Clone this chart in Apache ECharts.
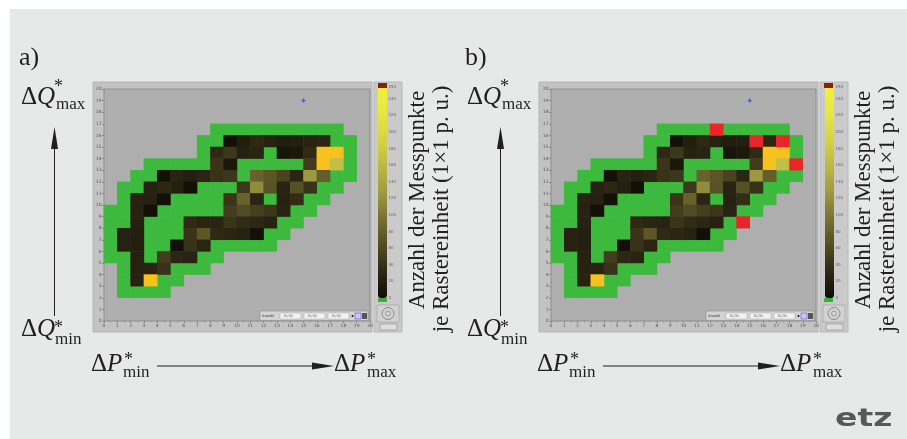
<!DOCTYPE html>
<html><head><meta charset="utf-8">
<script src="https://cdn.jsdelivr.net/npm/echarts@6/dist/echarts.min.js"></script>
<style>html,body{margin:0;padding:0;background:#fff;}#c{width:907px;height:439px;}</style>
</head><body><div id="c"></div>
<script>
// ---- data (grid cell = [x, y] in 1x1 p.u. raster, value = count) ----
const cellCategories = ['0','1','2','3','4','5','6','7','8','9','10','11','12','13','14','15','16','17','18','19'];
const axisMin = 0, axisMax = 20, axisStep = 1;
const colorbarMin = 0, colorbarMax = 254, colorbarStep = 20;
const rampMax = 252, rampRangeTop = 251;

// cells with measurements below threshold (drawn green)
const greenCells = [
  [8,16],[9,16],[10,16],[11,16],[12,16],[13,16],[14,16],[15,16],[16,16],[17,16],
  [7,15],[8,15],[17,15],[18,15],
  [7,14],[12,14],[18,14],
  [3,13],[4,13],[5,13],[6,13],[7,13],[10,13],[11,13],[12,13],[13,13],[14,13],[18,13],
  [2,12],[3,12],[10,12],[17,12],[18,12],
  [1,11],[2,11],[7,11],[8,11],[9,11],[16,11],[17,11],
  [1,10],[5,10],[6,10],[7,10],[8,10],[12,10],[15,10],[16,10],
  [0,9],[1,9],[4,9],[5,9],[6,9],[7,9],[8,9],[14,9],[15,9],
  [0,8],[1,8],[3,8],[4,8],[5,8],[13,8],[14,8],
  [0,7],[3,7],[4,7],[5,7],[12,7],[13,7],
  [0,6],[3,6],[4,6],[8,6],[9,6],[10,6],[11,6],[12,6],
  [0,5],[1,5],[3,5],[7,5],[8,5],
  [1,4],[5,4],[6,4],[7,4],
  [1,3],[4,3],[5,3],
  [1,2],[2,2],[3,2],[4,2]
];

// counted cells [x, y, count]
const countCells = [
  [9,15,4],[10,15,20],[11,15,32],[12,15,24],[13,15,20],[14,15,22],[15,15,26],[16,15,30],
  [8,14,32],[9,14,45],[10,14,24],[11,14,26],[13,14,10],[14,14,14],[15,14,34],[16,14,254],[17,14,254],
  [8,13,42],[9,13,12],[15,13,48],[16,13,254],[17,13,165],
  [4,12,5],[5,12,26],[6,12,22],[7,12,28],[8,12,40],[9,12,44],[11,12,80],[12,12,70],[13,12,55],[14,12,28],[15,12,125],[16,12,78],
  [3,11,24],[4,11,30],[5,11,22],[6,11,5],[10,11,45],[11,11,115],[12,11,68],[13,11,26],[14,11,66],[15,11,40],
  [2,10,26],[3,10,24],[4,10,5],[9,10,42],[10,10,80],[11,10,28],[13,10,24],[14,10,36],
  [2,9,24],[3,9,5],[9,9,50],[10,9,62],[11,9,52],[12,9,44],[13,9,26],
  [2,8,24],[6,8,32],[7,8,28],[8,8,26],[9,8,42],[10,8,34],[11,8,30],[12,8,24],
  [1,7,24],[2,7,22],[6,7,42],[7,7,72],[8,7,32],[9,7,28],[10,7,24],[11,7,4],
  [1,6,24],[2,6,22],[5,6,4],[6,6,40],[7,6,28],
  [2,5,24],[4,5,50],[5,5,30],[6,5,26],
  [2,4,24],[3,4,26],[4,4,40],
  [2,3,24],[3,3,254]
];

// panel b: flagged cells (red)
const redCellsB = [[12,16],[15,15],[17,15],[18,13],[14,8]];
// cursor marker
const cursorPoint = [[15,19]];

// ---- styles ----
const GREEN = '#3dba3d', RED = '#e8262a', OVER = '#f9c11b';
const ramp = ['#0e0c06','#2e2814','#524c24','#787232','#9e9a40','#bcb846','#d6d444','#e8e640','#f2f03a'];
const serif = '"Liberation Serif","DejaVu Serif",serif';
const sans = '"DejaVu Sans",sans-serif';
const INK = '#231f20';

const isRed = (x, y) => redCellsB.some(r => r[0] === x && r[1] === y);
const greenA = greenCells.map(c => [c[0], c[1], 0]);
const greenB = greenCells.filter(c => !isRed(c[0], c[1])).map(c => [c[0], c[1], 0]);
const countB = countCells.filter(c => !isRed(c[0], c[1]));
const redB = redCellsB.map(c => [c[0], c[1], 0]);

const chart = echarts.init(document.getElementById('c'), null, {renderer: 'canvas'});

const plotGrids = [
  {left: 104, top: 89, width: 266, height: 232},
  {left: 551, top: 89, width: 265, height: 232}
];
const barGrids = [
  {left: 378, top: 87, width: 9, height: 211},
  {left: 825, top: 87, width: 9, height: 211}
];

const grid = [];
plotGrids.forEach(g => grid.push(Object.assign({show: true, backgroundColor: '#aeaeae', borderColor: '#8e8e8e', borderWidth: 1}, g)));
barGrids.forEach(g => grid.push(Object.assign({show: false}, g)));

const valueAxisX = gi => ({
  type: 'value', gridIndex: gi, position: 'bottom', min: axisMin, max: axisMax, interval: axisStep,
  axisLine: {show: false}, splitLine: {show: false},
  axisTick: {show: true, length: 2, lineStyle: {color: '#6a6a6a', width: 0.6}},
  minorTick: {show: true, splitNumber: 2, length: 1.2, lineStyle: {color: '#777', width: 0.5}},
  axisLabel: {fontSize: 4.5, color: '#555', margin: 2.5, fontFamily: sans}
});
const valueAxisY = gi => ({
  type: 'value', gridIndex: gi, position: 'left', min: axisMin, max: axisMax, interval: axisStep,
  axisLine: {show: false}, splitLine: {show: false},
  axisTick: {show: true, length: 2, lineStyle: {color: '#6a6a6a', width: 0.6}},
  axisLabel: {fontSize: 4.5, color: '#555', margin: 2.5, fontFamily: sans}
});
const catAxis = (gi, pos) => ({type: 'category', gridIndex: gi, position: pos, data: cellCategories, show: false});

const xAxis = [catAxis(0, 'top'), valueAxisX(0), catAxis(1, 'top'), valueAxisX(1),
  {type: 'value', gridIndex: 2, min: 0, max: 1, show: false},
  {type: 'value', gridIndex: 3, min: 0, max: 1, show: false}];
const barAxis = gi => ({
  type: 'value', gridIndex: gi, position: 'right', min: colorbarMin, max: colorbarMax, interval: colorbarStep,
  axisLine: {show: false}, splitLine: {show: false},
  axisTick: {show: true, length: 2, inside: false, lineStyle: {color: '#777', width: 0.6}},
  axisLabel: {fontSize: 4, color: '#666', margin: 1.5, fontFamily: sans}
});
const yAxis = [catAxis(0, 'right'), valueAxisY(0), catAxis(1, 'right'), valueAxisY(1), barAxis(2), barAxis(3)];

const heat = (xi, yi, data, color) => {
  const s = {type: 'heatmap', xAxisIndex: xi, yAxisIndex: yi, data: data, emphasis: {disabled: true}, itemStyle: {borderWidth: 0}, silent: true};
  if (color) s.itemStyle.color = color;
  return s;
};
const cursor = (xi, yi) => ({type: 'scatter', xAxisIndex: xi, yAxisIndex: yi, data: cursorPoint, symbol: 'path://M0,1H3V2H0Z M1,0H2V3H1Z', symbolSize: 4, itemStyle: {color: '#3c3cd0'}, silent: true});

const series = [
  heat(0, 0, greenA, GREEN),      // 0
  heat(0, 0, countCells, null),   // 1
  cursor(1, 1),                   // 2
  heat(2, 2, greenB, GREEN),      // 3
  heat(2, 2, countB, null),       // 4
  heat(2, 2, redB, RED),          // 5
  cursor(3, 3)                    // 6
];

const vm = (si, left) => ({
  type: 'continuous', seriesIndex: si, min: colorbarMin, max: rampMax, range: [colorbarMin, rampRangeTop], dimension: 2,
  show: true, left: left, top: 87, itemWidth: 9, itemHeight: 211, padding: 0,
  calculable: false, hoverLink: false, realtime: false,
  inRange: {color: ramp}, outOfRange: {color: OVER}
});

// ---- annotation graphics ----
const T = (x, y, text, size, extra) => ({
  type: 'text', x: x, y: y, z: 20,
  style: Object.assign({text: text, fontSize: size, fontFamily: serif, fill: INK, align: 'left', verticalAlign: 'middle'}, extra || {})
});
const DQ = (x, y, letter) => ({
  type: 'text', x: x, y: y, z: 20,
  style: {
    text: '{d|Δ}{q|' + letter + '}', align: 'left', verticalAlign: 'middle',
    rich: {d: {fontSize: 25, fontFamily: serif, fill: INK}, q: {fontSize: 25, fontFamily: serif, fontStyle: 'italic', fill: INK}}
  }
});

function panelGraphics(dx, tag) {
  const els = [];
  // LabVIEW frames
  els.push({type: 'rect', z: -5, shape: {x: 93 + dx, y: 82, width: 279, height: 250}, style: {fill: '#c3c3c3', stroke: '#b5b5b5', lineWidth: 1}});
  els.push({type: 'rect', z: -5, shape: {x: 374 + dx, y: 82, width: 28, height: 250}, style: {fill: '#cacaca', stroke: '#b8b8b8', lineWidth: 1}});
  // colorbar caps
  els.push({type: 'rect', z: 5, shape: {x: 378 + dx, y: 298, width: 9, height: 4}, style: {fill: '#3aae3a'}});
  els.push({type: 'rect', z: 5, shape: {x: 378 + dx, y: 83, width: 9, height: 5}, style: {fill: '#8a1c12'}});
  // control icons below colorbar
  els.push({type: 'rect', z: 5, shape: {x: 377 + dx, y: 305, width: 22, height: 17}, style: {fill: '#d2d2d2', stroke: '#a0a0a0', lineWidth: 0.6}});
  els.push({type: 'circle', z: 6, shape: {cx: 388 + dx, cy: 313.5, r: 6}, style: {fill: 'none', stroke: '#7a7a7a', lineWidth: 0.8}});
  els.push({type: 'circle', z: 6, shape: {cx: 388 + dx, cy: 313.5, r: 2.5}, style: {fill: 'none', stroke: '#7a7a7a', lineWidth: 0.6}});
  els.push({type: 'rect', z: 5, shape: {x: 380 + dx, y: 324, width: 17, height: 6}, style: {fill: '#dedede', stroke: '#8a8a8a', lineWidth: 0.6}});
  // cursor legend box inside plot
  els.push({type: 'rect', z: 8, shape: {x: 260 + dx, y: 311, width: 108, height: 9.5}, style: {fill: '#d4d4d4', stroke: '#8a8a8a', lineWidth: 0.6}});
  els.push({type: 'text', z: 9, x: 262 + dx, y: 316, style: {text: 'Anzahl', fontSize: 3.6, fontFamily: sans, fill: '#333', verticalAlign: 'middle'}});
  [280, 304, 328].forEach(px => {
    els.push({type: 'rect', z: 9, shape: {x: px + dx, y: 313, width: 21, height: 6}, style: {fill: '#f2f2f2', stroke: '#9a9a9a', lineWidth: 0.4}});
    els.push({type: 'text', z: 10, x: px + 3 + dx, y: 316, style: {text: '15,00', fontSize: 3.4, fontFamily: sans, fill: '#555', verticalAlign: 'middle'}});
  });
  els.push({type: 'circle', z: 9, shape: {cx: 352.5 + dx, cy: 316, r: 1}, style: {fill: '#111'}});
  els.push({type: 'rect', z: 9, shape: {x: 355 + dx, y: 313, width: 6, height: 6}, style: {fill: '#c8c8f0', stroke: '#3c3cd0', lineWidth: 0.5}});
  els.push({type: 'rect', z: 9, shape: {x: 362 + dx, y: 313, width: 5, height: 6}, style: {fill: '#555'}});

  // panel label
  els.push(T(19 + dx, 58, tag, 26));
  // Q axis annotation
  els.push(DQ(21 + dx, 97.5, 'Q'));
  els.push(T(54 + dx, 87.5, '*', 18));
  els.push(T(56 + dx, 105, 'max', 17));
  els.push(DQ(21 + dx, 329.5, 'Q'));
  els.push(T(54 + dx, 328, '*', 18));
  els.push(T(55 + dx, 340, 'min', 17));
  els.push({type: 'line', z: 20, shape: {x1: 54.5 + dx, y1: 146, x2: 54.5 + dx, y2: 316}, style: {stroke: INK, lineWidth: 1}});
  els.push({type: 'polygon', z: 20, shape: {points: [[54.5 + dx, 127], [51 + dx, 149], [58 + dx, 149]]}, style: {fill: INK}});
  // P axis annotation
  els.push(DQ(91 + dx, 364.5, 'P'));
  els.push(T(124 + dx, 360.5, '*', 18));
  els.push(T(123 + dx, 373, 'min', 17));
  els.push(DQ(334 + dx, 364.5, 'P'));
  els.push(T(367 + dx, 360.5, '*', 18));
  els.push(T(367 + dx, 373, 'max', 17));
  els.push({type: 'line', z: 20, shape: {x1: 157 + dx, y1: 366, x2: 314 + dx, y2: 366}, style: {stroke: INK, lineWidth: 1}});
  els.push({type: 'polygon', z: 20, shape: {points: [[334 + dx, 366], [312 + dx, 362.5], [312 + dx, 369.5]]}, style: {fill: INK}});
  // colorbar title (rotated)
  els.push(Object.assign(T(418 + dx, 200, 'Anzahl der Messpunkte', 23, {align: 'center'}), {rotation: Math.PI / 2}));
  els.push(Object.assign(T(442 + dx, 209, 'je Rastereinheit (1×1 p. u.)', 23, {align: 'center'}), {rotation: Math.PI / 2}));
  return els;
}

const graphic = [
  {type: 'rect', z: -10, shape: {x: 10, y: 9, width: 897, height: 430}, style: {fill: '#e7e8e8'}}
].concat(panelGraphics(0, 'a)'), panelGraphics(446, 'b)'), [
  {type: 'text', z: 20, x: 835, y: 419, scaleX: 1.32, style: {text: 'etz', fontSize: 25, fontWeight: 'bold', fontFamily: sans, fill: '#57585a', verticalAlign: 'middle'}}
]);

chart.setOption({
  animation: false,
  backgroundColor: '#ffffff',
  grid: grid,
  xAxis: xAxis,
  yAxis: yAxis,
  visualMap: [vm(1, 378), vm(4, 825)],
  series: series,
  graphic: graphic
});
</script>
</body></html>
